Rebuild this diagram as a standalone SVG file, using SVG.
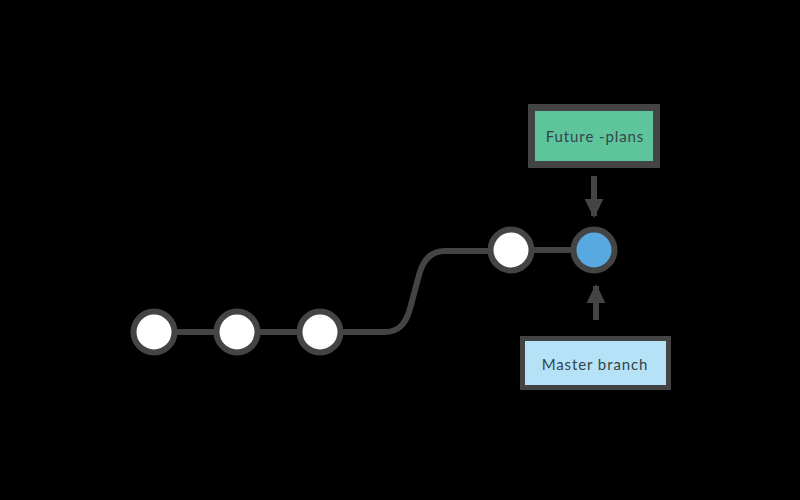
<svg xmlns="http://www.w3.org/2000/svg" width="800" height="500" viewBox="0 0 800 500">
<style>
.edge{fill:none;stroke:#444444;stroke-width:6;stroke-linecap:butt}
.commit{stroke:#444444;stroke-width:6}
.lbl{font-family:Lato,"Open Sans","Liberation Sans",sans-serif;font-size:15px;fill:#34454b;text-anchor:middle;letter-spacing:0.9px}
</style>
<defs>
<marker id="ah" viewBox="0 0 10 10" refX="9" refY="5" markerWidth="3.2" markerHeight="4.6" orient="auto" markerUnits="strokeWidth">
<path d="M0,0 L10,5 L0,10 z" fill="#444444"/>
</marker>
</defs>
<rect x="0" y="0" width="800" height="500" fill="#000000"/>
<g id="connectors">
<line class="edge" x1="174" y1="332" x2="217" y2="332"/>
<line class="edge" x1="257" y1="332" x2="300" y2="332"/>
<path class="edge" d="M340 332 H385 C400 332 407 322 411 305 L419 275 C423 260 431 251 445 251 H491"/>
<line class="edge" x1="531" y1="250" x2="574" y2="250"/>
<line class="edge" x1="594" y1="176" x2="594" y2="216" marker-end="url(#ah)"/>
<line class="edge" x1="596" y1="320" x2="596" y2="286" marker-end="url(#ah)"/>
</g>
<g id="c1"><circle class="commit" cx="154" cy="332" r="20.5" fill="#ffffff"/></g>
<g id="c2"><circle class="commit" cx="237" cy="332" r="20.5" fill="#ffffff"/></g>
<g id="c3"><circle class="commit" cx="320" cy="332" r="20.5" fill="#ffffff"/></g>
<g id="c4"><circle class="commit" cx="511" cy="250" r="20.5" fill="#ffffff"/></g>
<g id="c5"><circle class="commit" cx="594" cy="250" r="20.5" fill="#57a9e0"/></g>
<g id="future-plans">
<rect x="531.5" y="107.5" width="125" height="57" fill="#5ec49b" stroke="#444444" stroke-width="7"/>
<text class="lbl" x="595" y="142">Future -plans</text>
</g>
<g id="master-branch">
<rect x="522.5" y="338.5" width="146" height="49" fill="#b5e2f7" stroke="#444444" stroke-width="5"/>
<text class="lbl" x="595" y="370">Master branch</text>
</g>
</svg>
